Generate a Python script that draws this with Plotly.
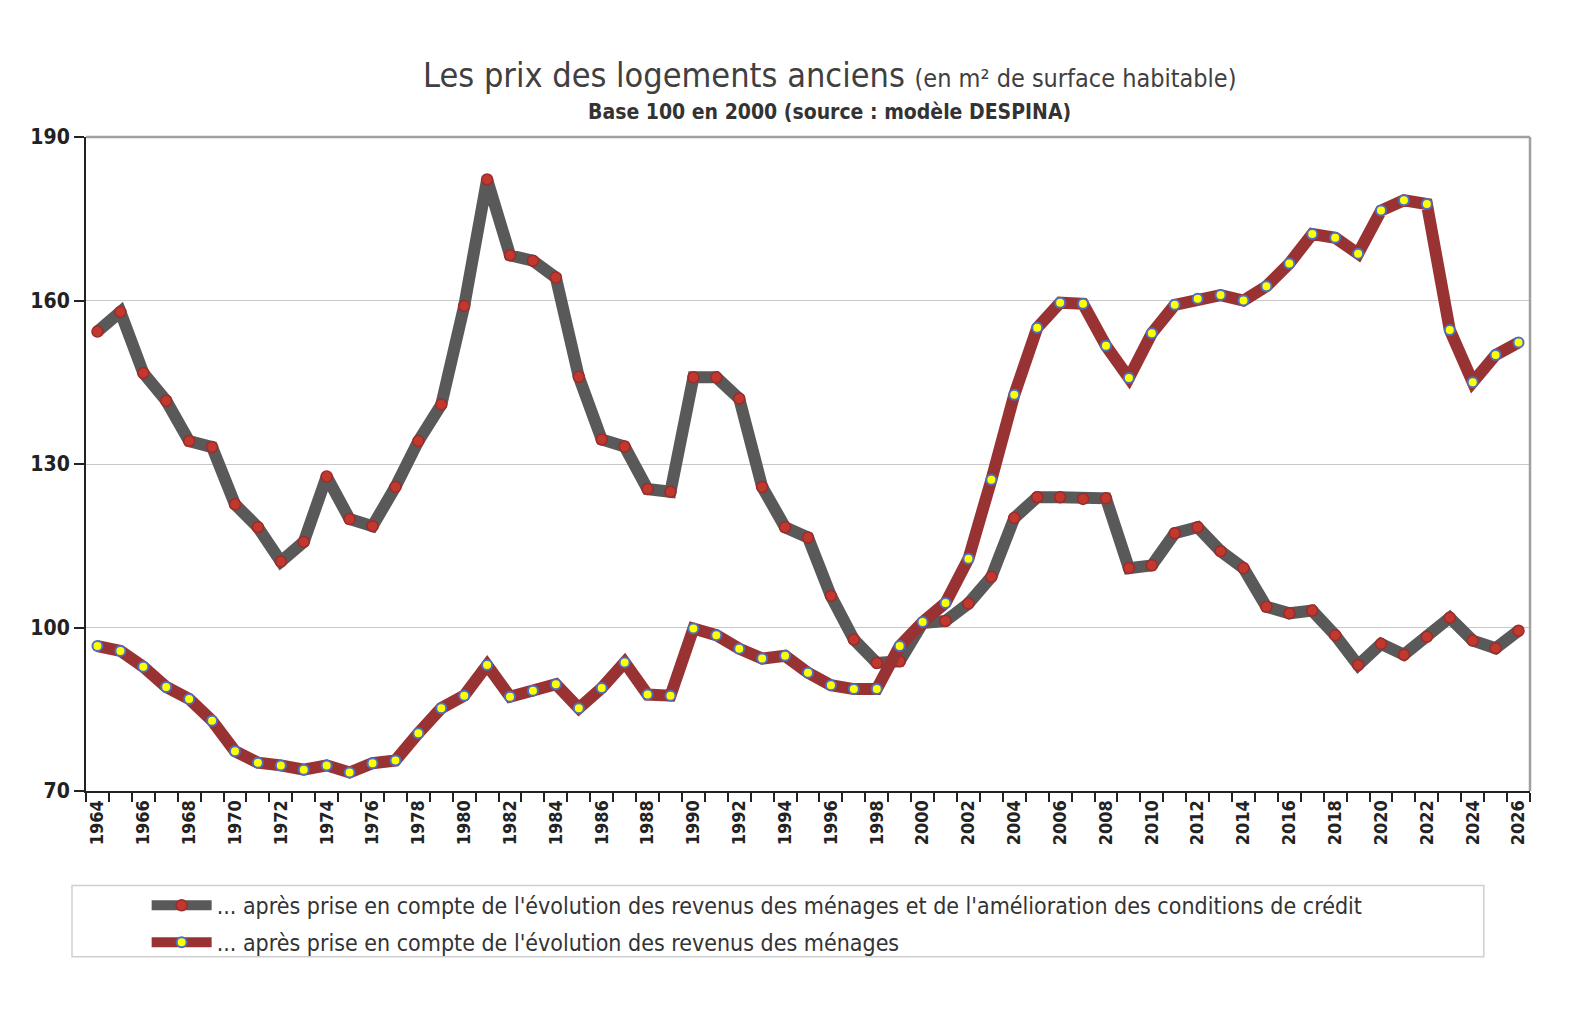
import plotly.graph_objects as go

years = list(range(1964, 2027))

# ... après prise en compte des revenus et des conditions de crédit
prix_credit = [
    154.3, 157.9, 146.7, 141.6, 134.2, 133.1, 122.6, 118.4, 112.1, 115.7,
    127.7, 119.9, 118.6, 125.8, 134.2, 140.9, 159.0, 182.2, 168.3, 167.3,
    164.2, 146.0, 134.5, 133.2, 125.4, 124.9, 145.9, 145.9, 142.0, 125.8,
    118.4, 116.5, 105.8, 97.8, 93.5, 93.8, 100.8, 101.2, 104.4, 109.3,
    120.1, 123.9, 123.9, 123.6, 123.7, 110.9, 111.4, 117.3, 118.4, 114.0,
    110.9, 103.8, 102.6, 103.1, 98.6, 93.1, 97.0, 95.0, 98.3, 101.8,
    97.6, 96.2, 99.4,
]

# ... après prise en compte des revenus seulement
prix_revenus = [
    96.6, 95.7, 92.8, 89.1, 86.9, 82.9, 77.3, 75.2, 74.7, 73.9,
    74.7, 73.4, 75.1, 75.6, 80.6, 85.2, 87.5, 93.1, 87.3, 88.4,
    89.6, 85.2, 88.9, 93.6, 87.7, 87.5, 99.8, 98.6, 96.1, 94.3,
    94.8, 91.7, 89.4, 88.7, 88.7, 96.6, 101.0, 104.5, 112.6, 127.1,
    142.7, 155.0, 159.6, 159.4, 151.7, 145.8, 154.0, 159.2, 160.3, 161.0,
    160.0, 162.6, 166.8, 172.2, 171.5, 168.6, 176.5, 178.4, 177.7, 154.6,
    145.0, 150.0, 152.3,
]

labels = [
    "... après prise en compte de l'évolution des revenus des ménages "
    "et de l'amélioration des conditions de crédit",
    "... après prise en compte de l'évolution des revenus des ménages",
]

FONT = "Liberation Sans Narrow, DejaVu Sans Condensed, Arial Narrow, sans-serif"

fig = go.Figure()
fig.add_trace(go.Scatter(
    x=years, y=prix_credit, name=labels[0], mode="lines+markers",
    legendgroup="a",
    line=dict(color="#595959", width=12),
    marker=dict(color="#c0392f", size=11, line=dict(color="#9e2a2a", width=1.5)),
))
fig.add_trace(go.Scatter(
    x=years, y=prix_revenus, name=labels[1], mode="lines+markers",
    legendgroup="b",
    line=dict(color="#993333", width=12),
    marker=dict(color="#ffff00", size=10, line=dict(color="#4a6fc4", width=2)),
))

# the page body adds an 8px offset, so the figure is 8px smaller
fig.update_layout(
    width=1566, height=1002,
    margin=dict(l=78, r=44, t=129, b=219),
    paper_bgcolor="white", plot_bgcolor="white",
    font=dict(family=FONT, color="#333333"),
    showlegend=True,
    legend=dict(
        x=0.042, y=-0.142, xanchor="left", yanchor="top",
        font=dict(size=23, family=FONT, color="#333333"),
        bgcolor="rgba(0,0,0,0)", borderwidth=0,
        tracegroupgap=4, itemwidth=60,
    ),
    xaxis=dict(
        range=[1963.5, 2026.5],
        tickvals=[y for y in years if y % 2 == 0],
        ticktext=[str(y) for y in years if y % 2 == 0],
        tickangle=-90, ticks="",
        tickfont=dict(size=18, family=FONT, color="#222222", weight="bold"),
        showgrid=False, zeroline=False,
        showline=True, linecolor="#222222", linewidth=2,
        minor=dict(ticks="outside", tick0=1963.5, dtick=1, ticklen=9,
                   tickcolor="#222222", tickwidth=1.5, showgrid=False),
    ),
    yaxis=dict(
        range=[70, 190], dtick=30, tick0=70,
        ticks="outside", ticklen=10, tickcolor="#222222", tickwidth=1.5,
        tickfont=dict(size=21, family=FONT, color="#222222", weight="bold"),
        showgrid=True, gridcolor="#c8c8c8", gridwidth=1,
        zeroline=False,
        showline=True, linecolor="#222222", linewidth=2,
    ),
    shapes=[
        dict(type="line", xref="paper", yref="paper", x0=0, x1=1, y0=1, y1=1,
             line=dict(color="#a0a0a0", width=2.5)),
        dict(type="line", xref="paper", yref="paper", x0=1, x1=1, y0=0, y1=1,
             line=dict(color="#a0a0a0", width=2.5)),
        dict(type="rect", xref="paper", yref="paper",
             x0=-0.0097, x1=0.968, y0=-0.2535, y1=-0.1444,
             line=dict(color="#d0d0d0", width=1.5)),
    ],
    annotations=[
        dict(xref="paper", yref="paper", x=0.5146, y=1 + (137 - 75) / 651,
             xanchor="center", yanchor="middle", showarrow=False,
             text="Les prix des logements anciens "
                  "<span style='font-size:25px'>(en m² de surface habitable)</span>",
             font=dict(size=34, family=FONT, color="#404040")),
        dict(xref="paper", yref="paper", x=0.5146, y=1 + (137 - 112) / 651,
             xanchor="center", yanchor="middle", showarrow=False,
             text="<b>Base 100 en 2000 (source : modèle DESPINA)</b>",
             font=dict(size=21, family=FONT, color="#333333")),
    ],
)

fig.write_html("out.html")
